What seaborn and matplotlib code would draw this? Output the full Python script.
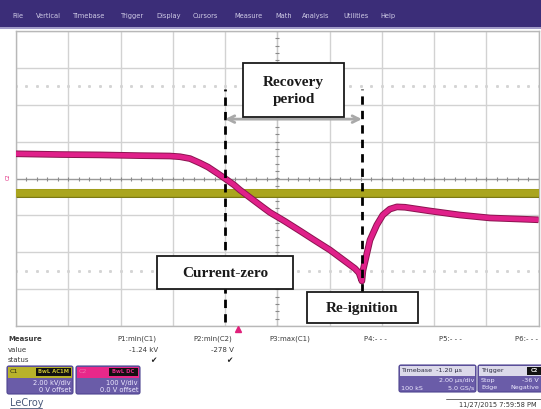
import numpy as np
import pandas as pd
import matplotlib
matplotlib.use("Agg")
import matplotlib.pyplot as plt
from matplotlib.patches import Rectangle, FancyBboxPatch
from matplotlib import patheffects as pe
import seaborn as sns

sns.set_style("white")
plt.rcParams["font.family"] = ["DejaVu Sans"]

# ---- waveform data (time in microseconds) ----
c2_time_us = [-10.0, -8.32, -6.79, -5.26, -4.11, -3.72, -3.34, -2.96, -2.65,
              -2.31, -2.00, -1.66, -1.43, -1.13, -0.85, -0.51, -0.28, 0.29,
              0.87, 1.44, 2.02, 2.40, 2.78, 2.97, 3.13, 3.24, 3.28, 3.55,
              3.81, 4.04, 4.31, 4.58, 4.89, 5.84, 6.99, 8.14, 9.29, 10.0]
c2_volts = [67, 65, 64, 62, 61, 59, 54, 42, 31,
            15, 0, -17, -31, -47, -62, -80, -92, -116,
            -142, -168, -194, -214, -234, -244, -256, -278, -250, -167,
            -126, -99, -83, -77, -78, -88, -99, -107, -110, -112]
c1_time_us = [-10.0, -6.0, -2.0, 2.0, 6.0, 10.0]
c1_kv = [-0.78, -0.78, -0.78, -0.78, -0.78, -0.78]

c1_vdiv_kv = 2.0      # C1 vertical scale, kV/div
c2_vdiv_v = 100.0     # C2 vertical scale, V/div
tdiv_us = 2.0         # timebase, us/div

menu_items = ["File", "Vertical", "Timebase", "Trigger", "Display", "Cursors",
              "Measure", "Math", "Analysis", "Utilities", "Help"]
meas_names = ["P1:min(C1)", "P2:min(C2)", "P3:max(C1)", "P4:- - -", "P5:- - -", "P6:- - -"]
meas_values = ["-1.24 kV", f"{min(c2_volts):.0f} V", "", "", "", ""]

# event times derived from the C2 record
t_zero = c2_time_us[c2_volts.index(0)]
t_reignition = c2_time_us[c2_volts.index(min(c2_volts))]

df_c2 = pd.DataFrame({"t": c2_time_us, "div": np.array(c2_volts) / c2_vdiv_v})
df_c1 = pd.DataFrame({"t": c1_time_us, "div": np.array(c1_kv) / c1_vdiv_kv})

W, H = 541, 409
fig = plt.figure(figsize=(W / 100, H / 100), dpi=100)
fig.patch.set_facecolor("white")

# ---- scope graticule ----
x0, x1, y0, y1 = 16, 538.5, 31, 326
ax = fig.add_axes([x0 / W, (H - y1) / H, (x1 - x0) / W, (y1 - y0) / H])
ax.set_xlim(-5 * tdiv_us, 5 * tdiv_us)
ax.set_ylim(-4, 4)
ax.set_xticks(np.arange(-10, 10.1, tdiv_us))
ax.set_yticks(np.arange(-4, 4.1, 1))
ax.grid(True, color="#d2d2d2", lw=1.0)
ax.tick_params(length=0, labelbottom=False, labelleft=False)
for s in ax.spines.values():
    s.set_color("#b8b8b8")
    s.set_linewidth(1.0)

# centre cross with fine ticks
ax.axhline(0, color="#9a9a9a", lw=0.9, zorder=1)
ax.axvline(0, color="#c8c8c8", lw=0.9, zorder=1)
fine_x = np.arange(-10, 10.01, tdiv_us / 5)
fine_y = np.arange(-4, 4.01, 0.2)
ax.plot(fine_x, np.zeros_like(fine_x), ls="none", marker="|", ms=3.5,
        mew=0.8, color="#8a8a8a", zorder=1)
ax.plot(np.zeros_like(fine_y), fine_y, ls="none", marker="_", ms=3.5,
        mew=0.8, color="#8a8a8a", zorder=1)
for yy in (2.5, -2.5):
    ax.plot(fine_x, np.full_like(fine_x, yy), ls="none", marker="s", ms=1.1,
            color="#d4d4d4", zorder=1)

# ---- traces ----
sns.lineplot(data=df_c1, x="t", y="div", ax=ax, color="#aaa51e", lw=5.5,
             zorder=3, legend=False,
             path_effects=[pe.Stroke(linewidth=6.5, foreground="#7c7a14"), pe.Normal()])
sns.lineplot(data=df_c2, x="t", y="div", ax=ax, color="#e0208a", lw=3.4,
             zorder=4, legend=False,
             path_effects=[pe.Stroke(linewidth=4.8, foreground="#8c1450"), pe.Normal()])
for ln in ax.lines[-2:]:
    ln.set_solid_joinstyle("round")
    ln.set_solid_capstyle("butt")
ax.set_xlabel("")
ax.set_ylabel("")

# event markers
ax.vlines(t_zero, -3.89, 2.43, colors="black", lw=2.0,
          linestyles=(0, (3.0, 2.2)), zorder=5)
ax.vlines(t_reignition, -3.08, 2.43, colors="black", lw=2.0,
          linestyles=(0, (3.0, 2.2)), zorder=5)
ax.annotate("", xy=(t_zero, 1.61), xytext=(t_reignition, 1.61),
            arrowprops=dict(arrowstyle="<->", color="#a9a9a9", lw=2.0,
                            mutation_scale=12, shrinkA=0, shrinkB=0), zorder=5)

# ---- screen furniture in pixel coordinates ----
ov = fig.add_axes([0, 0, 1, 1], zorder=10)
ov.set_xlim(0, W)
ov.set_ylim(H, 0)
ov.axis("off")
ov.patch.set_alpha(0)

# menu bar
ov.add_patch(Rectangle((0, 0), W, 27, color="#3b2d78", lw=0))
ov.add_patch(Rectangle((0, 27), W, 2, color="#a29cc8", lw=0))
menu_x = [12, 36, 73, 121, 156, 193, 234, 275, 302, 343, 380]
for mx, name in zip(menu_x, menu_items):
    ov.text(mx, 16, name, fontsize=4.8, color="#cfcbe6", va="center", ha="left")

# annotation boxes
serif = ["Liberation Serif", "DejaVu Serif"]
boxes = [((243, 63, 101, 54), "Recovery\nperiod"),
         ((157, 256, 136, 33), "Current-zero"),
         ((307, 292, 111, 31), "Re-ignition")]
for (bx, by, bw, bh), label in boxes:
    ov.add_patch(Rectangle((bx, by), bw, bh, facecolor="white",
                           edgecolor="#1a1a1a", lw=1.3))
    ov.text(bx + bw / 2, by + bh / 2 + 1, label, family=serif, weight="bold",
            fontsize=11, ha="center", va="center", linespacing=1.35,
            color="#1a1a1a")

# trigger position and C2 ground markers
ov.plot([238], [329], marker="^", ms=4, color="#e0207a")
ov.text(8, 177, "C2", fontsize=3.5, color="#e0207a", rotation=90,
        ha="center", va="center")

# measurement table
txt = "#3a3a3a"
ov.text(8, 339, "Measure", fontsize=5, weight="bold", color=txt, va="center")
ov.text(8, 349.5, "value", fontsize=5, color=txt, va="center")
ov.text(8, 360, "status", fontsize=5, color=txt, va="center")
name_x = [117, 193, 269, 364, 439, 515]
for nx, name, val in zip(name_x, meas_names, meas_values):
    ov.text(nx, 339, name, fontsize=5, color=txt, va="center")
    if val:
        ov.text(nx + 41, 349.5, val, fontsize=5, color=txt, va="center", ha="right")
        ov.text(nx + 36, 360, "\u2714", fontsize=5.5, color="#222222",
                va="center", ha="center")


def panel(x, y, w, h, head_color, head_h=11):
    ov.add_patch(FancyBboxPatch((x, y), w, h, boxstyle="round,pad=0,rounding_size=2",
                                facecolor="#6a5ca8", edgecolor="#4e4490", lw=0.8))
    ov.add_patch(Rectangle((x + 0.6, y + 0.6), w - 1.2, head_h, facecolor=head_color, lw=0))


def tag(x, y, w, h, label, color):
    ov.add_patch(Rectangle((x, y), w, h, facecolor="#111111", lw=0))
    ov.text(x + w / 2, y + h / 2, label, fontsize=3.8, color=color,
            ha="center", va="center", weight="bold")


body = "#eeeaff"
# C1 channel
panel(7, 366, 66, 28, "#b8b22a")
ov.text(10, 371.5, "C1", fontsize=4.6, color="#2a2a10", va="center")
tag(36, 367.5, 35, 8, "BwL AC1M", "#c8c030")
ov.text(71, 383, f"{c1_vdiv_kv:.2f} kV/div", fontsize=4.8, color=body, ha="right", va="center")
ov.text(71, 390.5, "0 V offset", fontsize=4.8, color=body, ha="right", va="center")
# C2 channel
panel(76, 366, 64, 28, "#e8288a")
ov.text(79, 371.5, "C2", fontsize=4.6, color="#f070b0", va="center")
tag(109, 367.5, 29, 8, "BwL DC", "#e8288a")
ov.text(138, 383, f"{c2_vdiv_v:.0f} V/div", fontsize=4.8, color=body, ha="right", va="center")
ov.text(138, 390.5, "0.0 V offset", fontsize=4.8, color=body, ha="right", va="center")
# timebase
panel(399, 365, 77, 27, "#dcdaea", head_h=10)
ov.text(401, 370.5, "Timebase  -1.20 \u00b5s", fontsize=4.6, color="#2a2a40", va="center")
ov.text(474, 380.5, f"{tdiv_us:.2f} \u00b5s/div", fontsize=4.6, color=body, ha="right", va="center")
ov.text(401, 388, "100 kS", fontsize=4.6, color=body, va="center")
ov.text(474, 388, "5.0 GS/s", fontsize=4.6, color=body, ha="right", va="center")
# trigger
panel(478, 365, 66, 27, "#dcdaea", head_h=10)
ov.text(481, 370.5, "Trigger", fontsize=4.6, color="#2a2a40", va="center")
tag(527, 366.5, 14, 8, "C2", "#e8e8e8")
ov.text(481, 380.5, "Stop", fontsize=4.6, color=body, va="center")
ov.text(539, 380.5, "-36 V", fontsize=4.6, color=body, ha="right", va="center")
ov.text(481, 388, "Edge", fontsize=4.6, color=body, va="center")
ov.text(539, 388, "Negative", fontsize=4.6, color=body, ha="right", va="center")

# footer
ov.plot([446, 541], [399, 399], color="#555555", lw=0.6)
ov.text(537, 404.5, "11/27/2015 7:59:58 PM", fontsize=4.8, color="#333333",
        ha="right", va="center")
ov.text(10, 403, "LeCroy", fontsize=7, color="#4a5a7a", va="center")
ov.plot([10, 42], [408, 408], color="#4a5a7a", lw=0.6)

fig.savefig("out.png", dpi=100, facecolor="white")
